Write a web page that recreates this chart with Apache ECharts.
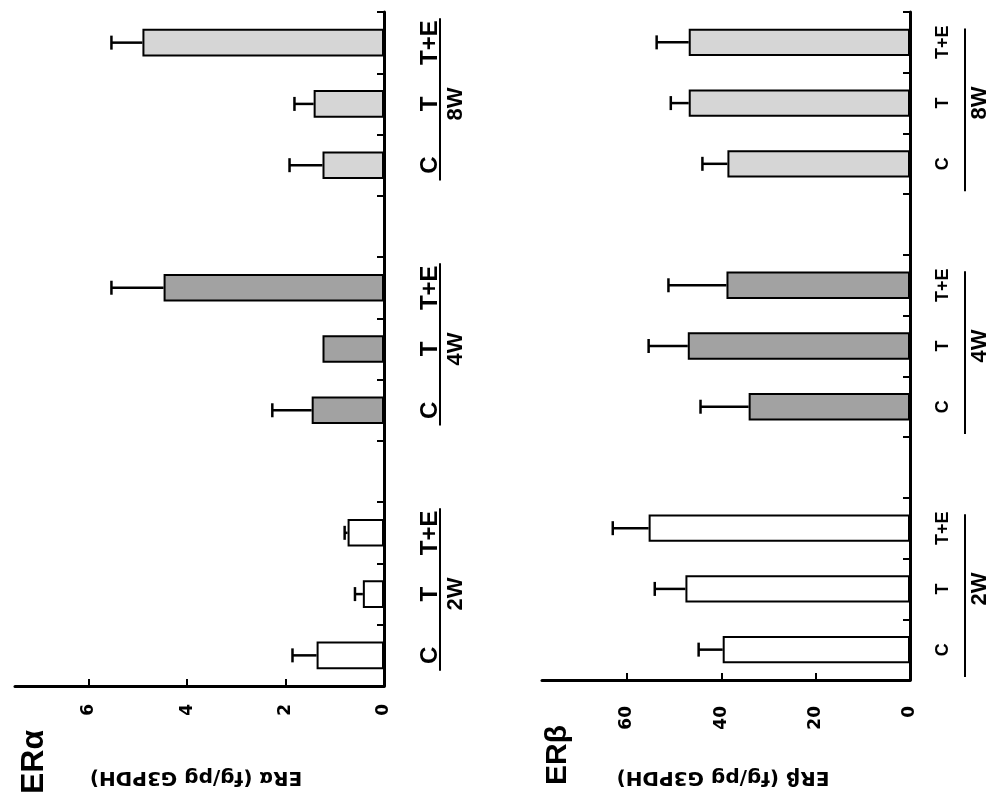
<!DOCTYPE html>
<html><head><meta charset="utf-8">
<script src="https://cdn.jsdelivr.net/npm/echarts@6/dist/echarts.min.js"></script>
<style>html,body{margin:0;padding:0;background:#fff}#c{width:997px;height:808px}</style>
</head><body><div id="c"></div>
<script>
// ---- data ----
const groups = ['2W', '4W', '8W'];
const conditions = ['C', 'T', 'T+E'];
const erAlpha    = [1.37, 0.43, 0.74, 1.47, 1.25, 4.48, 1.25, 1.43, 4.91];
const erAlphaErr = [0.49, 0.16, 0.06, 0.80, 0.00, 1.06, 0.67, 0.39, 0.63];
const erBeta     = [39.7, 47.6, 55.4, 34.2, 47.1, 38.9, 38.7, 46.9, 46.9];
const erBetaErr  = [5.1, 6.5, 7.6, 10.2, 8.3, 12.3, 5.3, 3.8, 6.8];
const alphaTicks = [0, 2, 4, 6];
const betaTicks  = [0, 20, 40, 60];
const alphaMax = 7.5;
const betaMax = 78;
const groupColors = ['#ffffff', '#a2a2a2', '#d6d6d6'];

// ---- build category slots (with a gap between groups) ----
const slots = [];      // unique ids
const slotLabels = []; // displayed text
const slotInfo = [];   // {g, c} or null
groups.forEach((g, gi) => {
  conditions.forEach((c, ci) => {
    slots.push(g + ' ' + c); slotLabels.push(c); slotInfo.push({ g: gi, c: ci });
  });
  if (gi < groups.length - 1) { slots.push('gap' + gi); slotLabels.push(''); slotInfo.push(null); }
});

function barData(vals) {
  return slotInfo.map(s => s ? {
    value: vals[s.g * conditions.length + s.c],
    itemStyle: { color: groupColors[s.g] }
  } : '-');
}
function errData(vals, errs) {
  const out = [];
  slotInfo.forEach((s, i) => {
    if (!s) return;
    const k = s.g * conditions.length + s.c;
    out.push([vals[k], i, errs[k]]);
  });
  return out;
}
function renderErr(params, api) {
  const v = api.value(0), idx = api.value(1), e = api.value(2);
  if (!(e > 0)) return null;
  const p0 = api.coord([v, idx]);
  const p1 = api.coord([v + e, idx]);
  const cap = 7;
  return {
    type: 'group', children: [
      { type: 'line', shape: { x1: p0[0], y1: p0[1], x2: p1[0], y2: p1[1] }, style: { stroke: '#000', lineWidth: 2.5 } },
      { type: 'line', shape: { x1: p1[0], y1: p1[1] - cap, x2: p1[0], y2: p1[1] + cap }, style: { stroke: '#000', lineWidth: 2.5 } }
    ]
  };
}

const FONT = 'Liberation Sans';
function valueAxis(gridIndex, max, ticks, labelMargin) {
  return {
    type: 'value', gridIndex, min: 0, max, inverse: true,
    splitLine: { show: false },
    axisLine: { show: true, lineStyle: { color: '#000', width: 3 } },
    axisTick: { show: true, inside: true, length: 7, customValues: ticks, lineStyle: { color: '#000', width: 2 } },
    axisLabel: { customValues: ticks, rotate: 90, margin: labelMargin, color: '#000', fontFamily: 'DejaVu Sans', fontWeight: 'bold', fontSize: 17 }
  };
}
function catAxis(gridIndex, labelMargin, fontSize) {
  return {
    type: 'category', gridIndex, data: slots, position: 'right',
    axisLine: { show: true, lineStyle: { color: '#000', width: 3 } },
    axisTick: { show: true, inside: true, length: 7, lineStyle: { color: '#000', width: 2 } },
    axisLabel: {
      rotate: 90, margin: labelMargin, color: '#000', fontFamily: FONT, fontWeight: 'bold', fontSize,
      formatter: (v, i) => slotLabels[i]
    }
  };
}
function barSeries(idx, vals) {
  return {
    type: 'bar', xAxisIndex: idx, yAxisIndex: idx, data: barData(vals), barWidth: '45%',
    itemStyle: { borderColor: '#000', borderWidth: 2 }, z: 2
  };
}
function errSeries(idx, vals, errs) {
  return {
    type: 'custom', xAxisIndex: idx, yAxisIndex: idx, data: errData(vals, errs),
    encode: { x: 0, y: 1 }, renderItem: renderErr, z: 3
  };
}

const chart = echarts.init(document.getElementById('c'), null, { renderer: 'canvas' });
const option = {
  animation: false,
  backgroundColor: '#fff',
  grid: [
    { left: 15, right: 613, top: 12, bottom: 122 },
    { left: 542, right: 87, top: 12, bottom: 128 }
  ],
  xAxis: [valueAxis(0, alphaMax, alphaTicks, 18), valueAxis(1, betaMax, betaTicks, 26)],
  yAxis: [catAxis(0, 34, 24), catAxis(1, 24, 18)],
  series: [
    barSeries(0, erAlpha), errSeries(0, erAlpha, erAlphaErr),
    barSeries(1, erBeta), errSeries(1, erBeta, erBetaErr)
  ]
};
chart.setOption(option);

// ---- decorations: group underlines & labels, titles, axis names ----
function decor(gridIndex, lineOff, labelOff, startFrac, endFrac, fontSize) {
  const els = [];
  const p0 = chart.convertToPixel({ gridIndex }, [0, 0]);
  const p1 = chart.convertToPixel({ gridIndex }, [0, 1]);
  const slotPx = Math.abs(p0[1] - p1[1]);
  groups.forEach((g, gi) => {
    const first = slotInfo.findIndex(s => s && s.g === gi && s.c === 0);
    const last = slotInfo.findIndex(s => s && s.g === gi && s.c === conditions.length - 1);
    const mid = slotInfo.findIndex(s => s && s.g === gi && s.c === 1);
    const a = chart.convertToPixel({ gridIndex }, [0, first]);
    const b = chart.convertToPixel({ gridIndex }, [0, last]);
    const m = chart.convertToPixel({ gridIndex }, [0, mid]);
    const x = a[0] + lineOff;
    els.push({ type: 'line', shape: { x1: x, y1: b[1] - startFrac * slotPx, x2: x, y2: a[1] + endFrac * slotPx },
      style: { stroke: '#000', lineWidth: 2 } });
    els.push({ type: 'text', x: a[0] + labelOff, y: m[1], rotation: Math.PI / 2,
      style: { text: g, fontFamily: FONT, fontWeight: 'bold', fontSize, fill: '#000', align: 'center', verticalAlign: 'middle' } });
  });
  return els;
}
const graphics = [].concat(
  decor(0, 56, 72, 0.4, 0.25, 22),
  decor(1, 55, 70, 0.23, 0.45, 22),
  [
    { type: 'text', x: 34, y: 762, rotation: Math.PI / 2,
      style: { text: 'ERα', fontFamily: FONT, fontWeight: 'bold', fontSize: 32, fill: '#000', align: 'center', verticalAlign: 'middle' } },
    { type: 'text', x: 558, y: 755, rotation: Math.PI / 2,
      style: { text: 'ERβ', fontFamily: FONT, fontWeight: 'bold', fontSize: 30, fill: '#000', align: 'center', verticalAlign: 'middle' } },
    { type: 'text', x: 196, y: 777, rotation: Math.PI,
      style: { text: 'ERα (fg/pg G3PDH)', fontFamily: 'DejaVu Sans', fontWeight: 'bold', fontSize: 20, fill: '#000', align: 'center', verticalAlign: 'middle' } },
    { type: 'text', x: 723, y: 777, rotation: Math.PI,
      style: { text: 'ERβ (fg/pg G3PDH)', fontFamily: 'DejaVu Sans', fontWeight: 'bold', fontSize: 20, fill: '#000', align: 'center', verticalAlign: 'middle' } }
  ]
);
chart.setOption({ graphic: graphics });
</script>
</body></html>
